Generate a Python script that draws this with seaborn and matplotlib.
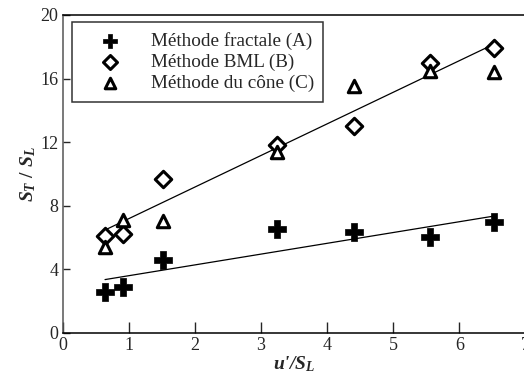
import numpy as np
import pandas as pd
import seaborn as sns
import matplotlib.pyplot as plt

# u'/S_L
x = [0.64, 0.91, 1.51, 3.24, 4.41, 5.56, 6.53]
# S_T/S_L
fractale = [2.58, 2.89, 4.60, 6.50, 6.31, 6.00, 6.98]
bml = [6.10, 6.19, 9.67, 11.80, 13.04, 16.98, 17.90]
cone = [5.37, 7.09, 7.05, 11.38, 15.50, 16.50, 16.40]

labels = ["Méthode fractale (A)", "Méthode BML (B)", "Méthode du cône (C)"]
xticks = [0, 1, 2, 3, 4, 5, 6, 7]
yticks = [0, 4, 8, 12, 16, 20]

df = pd.DataFrame({"x": x, "A": fractale, "B": bml, "C": cone})

sns.set_style("ticks")
plt.rcParams['font.family'] = ['Liberation Serif', 'DejaVu Serif']
plt.rcParams['mathtext.fontset'] = 'custom'
plt.rcParams['mathtext.it'] = 'Liberation Serif:italic:bold'
plt.rcParams['mathtext.rm'] = 'Liberation Serif:bold'

fig = plt.figure(figsize=(5.24, 3.82), dpi=100)
ax = fig.add_axes([0.1197, 0.129, 0.883, 0.8318])

sns.scatterplot(data=df, x="x", y="A", marker="P", s=150, color="black",
                edgecolor="black", linewidth=0.5, label=labels[0], ax=ax, zorder=3)
sns.scatterplot(data=df, x="x", y="B", marker="D", s=70, facecolor="white",
                edgecolor="black", linewidth=2.2, label=labels[1], ax=ax, zorder=3)
sns.scatterplot(data=df, x="x", y="C", marker="^", s=80, facecolor="white",
                edgecolor="black", linewidth=2.2, label=labels[2], ax=ax, zorder=3)

# droites de régression
sns.regplot(data=df, x="x", y="A", scatter=False, ci=None, color="black",
            line_kws={"lw": 0.9}, ax=ax)
sns.regplot(data=df, x="x", y="B", scatter=False, ci=None, color="black",
            line_kws={"lw": 0.9}, ax=ax)

ax.set_xlim(0, 7)
ax.set_ylim(0, 20)
ax.set_xticks(xticks)
ax.set_yticks(yticks)
ax.tick_params(axis="x", direction="in", length=7.7, width=1, labelsize=13, pad=3)
ax.tick_params(axis="y", direction="in", length=5, width=1, labelsize=13, pad=3)
for s in ax.spines.values():
    s.set_linewidth(1.1)
    s.set_color("black")
ax.spines["left"].set_color("#555555")

ax.set_xlabel(r"$u$'/$S_L$", fontsize=14, fontstyle="italic", fontweight="bold",
              labelpad=0)
ax.set_ylabel(r"$S_T\ /\ S_L$", fontsize=14, labelpad=2)

leg = ax.legend(loc="upper left", bbox_to_anchor=(0.02, 0.977), fontsize=13.8,
                frameon=True, fancybox=False, edgecolor="black", borderpad=0.5,
                handletextpad=0.6, labelspacing=0.2, borderaxespad=0,
                handlelength=3.0, markerscale=0.85)
leg.get_frame().set_linewidth(1.1)

fig.savefig("out.png", dpi=100)
